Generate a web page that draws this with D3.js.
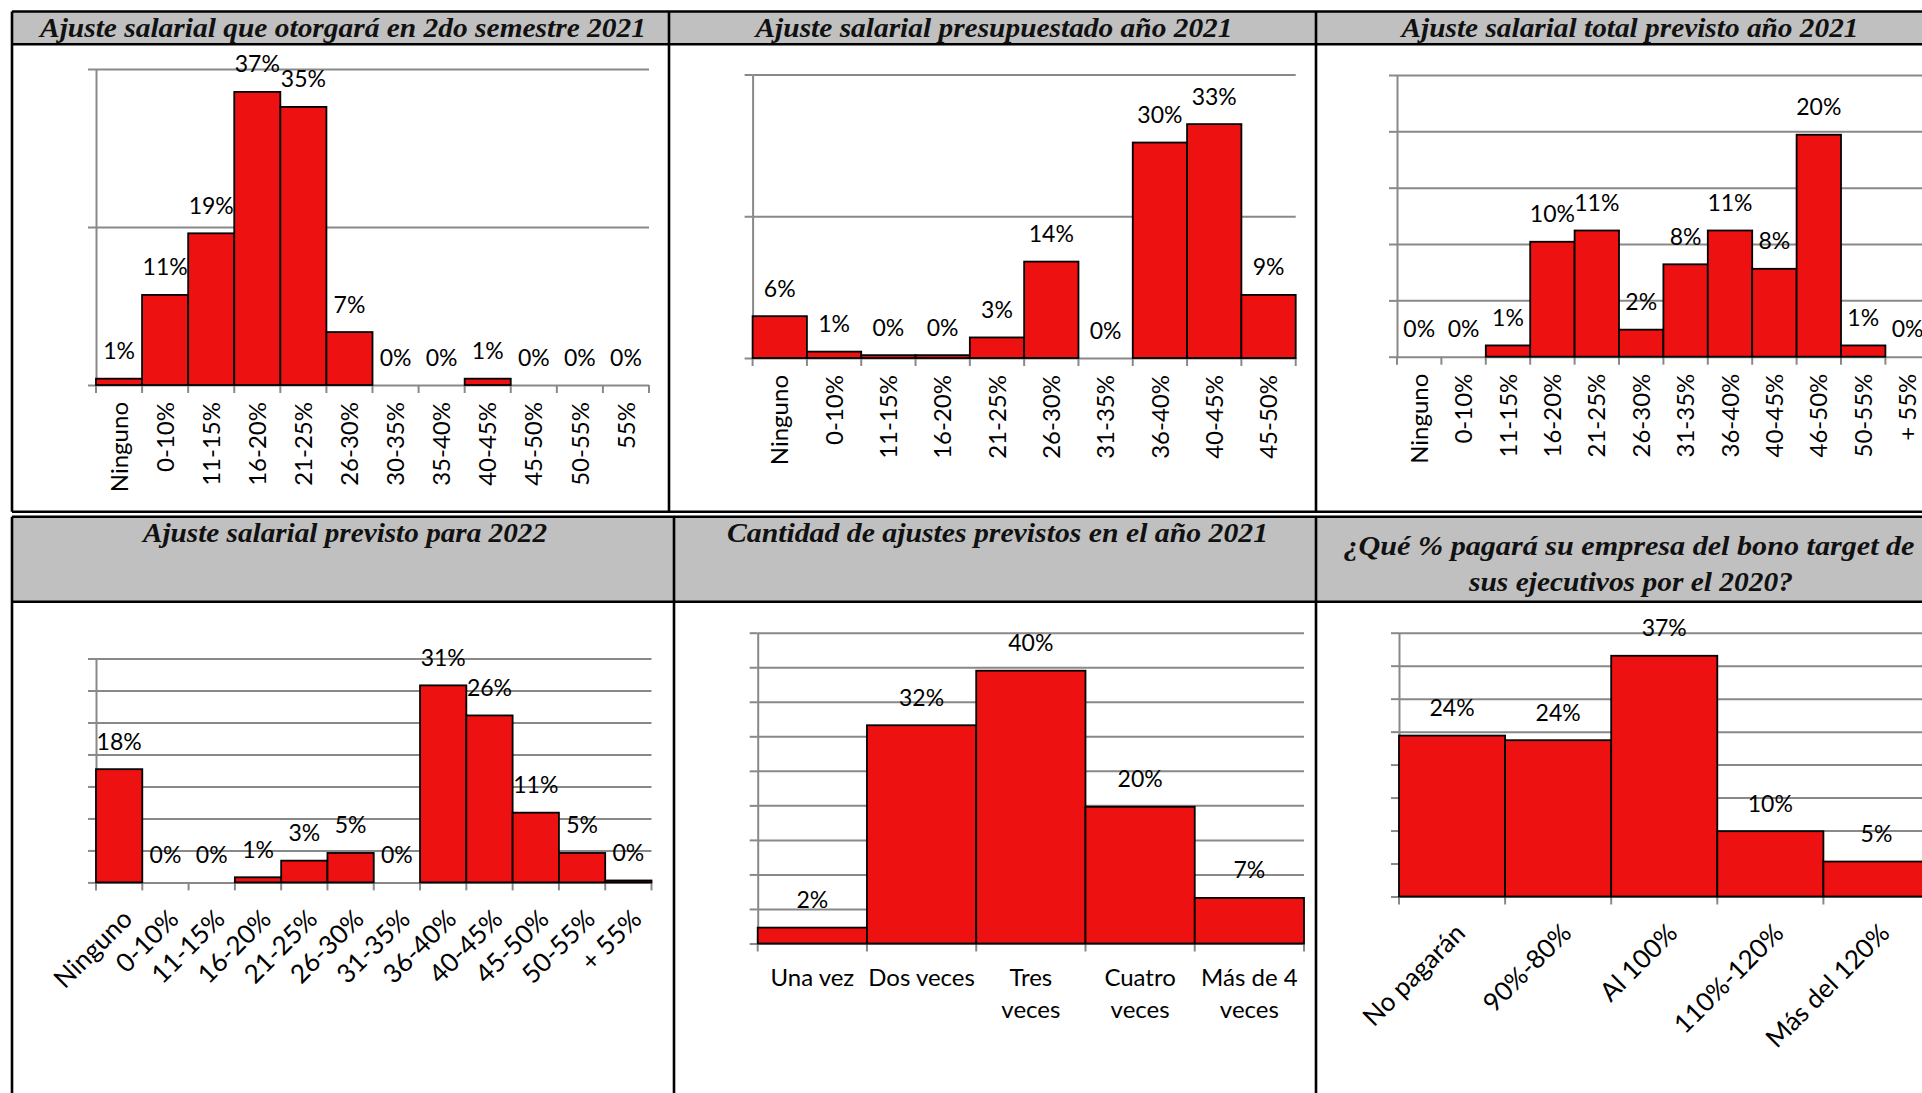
<!DOCTYPE html>
<html>
<head>
<meta charset="utf-8">
<script src="https://cdn.jsdelivr.net/npm/d3@7"></script>
<style>
  html, body { margin: 0; padding: 0; background: #fff; overflow: hidden; }
  svg { display: block; }
</style>
</head>
<body>
<svg id="board" width="1922" height="1093"></svg>
<script>
// ---- Survey results (percent of companies) ----
const cats1 = ["Ninguno", "0-10%", "11-15%", "16-20%", "21-25%", "26-30%", "30-35%", "35-40%", "40-45%", "45-50%", "50-55%", "55%"];
const vals1 = [0.8, 11.4, 19.2, 37.1, 35.2, 6.7, 0, 0, 0.8, 0, 0, 0];

const cats2 = ["Ninguno", "0-10%", "11-15%", "16-20%", "21-25%", "26-30%", "31-35%", "36-40%", "40-45%", "45-50%"];
const vals2 = [5.9, 0.9, 0.4, 0.4, 2.9, 13.6, 0, 30.4, 33.0, 8.9];

const cats3 = ["Ninguno", "0-10%", "11-15%", "16-20%", "21-25%", "26-30%", "31-35%", "36-40%", "40-45%", "46-50%", "50-55%", "+ 55%"];
const vals3 = [0, 0, 1.0, 10.2, 11.2, 2.4, 8.2, 11.2, 7.8, 19.7, 1.0, 0];

const cats4 = ["Ninguno", "0-10%", "11-15%", "16-20%", "21-25%", "26-30%", "31-35%", "36-40%", "40-45%", "45-50%", "50-55%", "+ 55%"];
const vals4 = [17.7, 0, 0, 0.8, 3.4, 4.6, 0, 30.8, 26.1, 10.9, 4.6, 0.3];

const cats5 = ["Una vez", "Dos veces", "Tres\nveces", "Cuatro\nveces", "Más de 4\nveces"];
const vals5 = [2.3, 31.6, 39.5, 19.8, 6.6];

const cats6 = ["No pagarán", "90%-80%", "Al 100%", "110%-120%", "Más del 120%"];
const vals6 = [24.4, 23.7, 36.5, 9.9, 5.3];

const titles = [
  "Ajuste salarial que otorgará en 2do semestre 2021",
  "Ajuste salarial presupuestado año 2021",
  "Ajuste salarial total previsto año 2021",
  "Ajuste salarial previsto para 2022",
  "Cantidad de ajustes previstos en el año 2021",
  "¿Qué % pagará su empresa del bono target de",
  "sus ejecutivos por el 2020?"
];

// ---- Page geometry ----
const svg = d3.select("#board");
const SANS = "Lato, 'Open Sans', sans-serif";
const SERIF = "'Liberation Serif', 'DejaVu Serif', serif";
const RED = "#ee1111";
const GRID = "#898989";
const labelFmt = v => Math.round(v) + "%";

// Table frames and grey title bands
const frame = svg.append("g");
frame.append("rect").attr("x", 12).attr("y", 11.5).attr("width", 1950).attr("height", 33).attr("fill", "#c0c0c0");
frame.append("rect").attr("x", 12).attr("y", 516.7).attr("width", 1950).attr("height", 85).attr("fill", "#c0c0c0");

const borderLines = [
  // upper table
  [12, 11.5, 1960, 11.5], [12, 44.3, 1960, 44.3], [12, 511.7, 1960, 511.7],
  [12, 11.5, 12, 511.7], [669, 11.5, 669, 511.7], [1316, 11.5, 1316, 511.7],
  // lower table
  [12, 516.7, 1960, 516.7], [12, 601.8, 1960, 601.8],
  [12, 516.7, 12, 1100], [674, 516.7, 674, 1100], [1316, 516.7, 1316, 1100]
];
frame.selectAll("line").data(borderLines).join("line")
  .attr("x1", d => d[0]).attr("y1", d => d[1]).attr("x2", d => d[2]).attr("y2", d => d[3])
  .attr("stroke", "#000").attr("stroke-width", 2.6);

// Titles
const titleSpecs = [
  { text: titles[0], cx: 343, y: 36.5, w: 606 },
  { text: titles[1], cx: 994, y: 36.5, w: 477 },
  { text: titles[2], cx: 1630, y: 36.5, w: 457 },
  { text: titles[3], cx: 345, y: 541.5, w: 404 },
  { text: titles[4], cx: 997.5, y: 541.5, w: 541 },
  { text: titles[5], cx: 1629, y: 555, w: 571 },
  { text: titles[6], cx: 1631, y: 591, w: 324 }
];
svg.append("g").selectAll("text").data(titleSpecs).join("text")
  .attr("x", d => d.cx).attr("y", d => d.y)
  .attr("text-anchor", "middle")
  .attr("font-family", SERIF).attr("font-weight", "bold").attr("font-style", "italic")
  .attr("font-size", 27).attr("fill", "#111")
  .attr("textLength", d => d.w).attr("lengthAdjust", "spacingAndGlyphs")
  .text(d => d.text);

// ---- Chart panels ----
const panels = [
  { cats: cats1, vals: vals1, left: 96, right: 649, base: 385, top: 69, max: 40, step: 20, mode: "v" },
  { cats: cats2, vals: vals2, left: 752.6, right: 1295.7, base: 358, top: 74.5, max: 40, step: 20, mode: "v" },
  { cats: cats3, vals: vals3, left: 1397, right: 1929.8, base: 356.7, top: 75, max: 25, step: 5, mode: "v" },
  { cats: cats4, vals: vals4, left: 96, right: 651.5, base: 882.4, top: 658.5, max: 35, step: 5, mode: "d" },
  { cats: cats5, vals: vals5, left: 757.7, right: 1304, base: 943.5, top: 632.7, max: 45, step: 5, mode: "h" },
  { cats: cats6, vals: vals6, left: 1399, right: 1929.5, base: 896.5, top: 632.7, max: 40, step: 5, mode: "d" }
];

function drawPanel(p) {
  const g = svg.append("g");
  const x = d3.scaleBand().domain(p.cats).range([p.left, p.right]).padding(0);
  const y = d3.scaleLinear().domain([0, p.max]).range([p.base, p.top]);
  const ticks = d3.range(0, p.max + p.step / 2, p.step);
  const width = p.right - p.left;

  // horizontal gridlines
  const grid = g.append("g").attr("transform", `translate(${p.left},0)`)
    .call(d3.axisLeft(y).tickValues(ticks).tickSize(-width).tickSizeOuter(0).tickFormat(""));
  grid.select(".domain").remove();
  grid.selectAll(".tick line").attr("stroke", GRID).attr("stroke-width", 2);

  // value axis with short outside tick marks
  const yAx = g.append("g").attr("transform", `translate(${p.left},0)`)
    .call(d3.axisLeft(y).tickValues(ticks).tickSize(8).tickSizeOuter(0).tickFormat(""));
  yAx.select(".domain").attr("stroke", GRID).attr("stroke-width", 2);
  yAx.selectAll(".tick line").attr("stroke", GRID).attr("stroke-width", 2);

  // category ticks sit on the band boundaries
  const edges = p.cats.map(c => x(c)).concat([p.right]);
  g.selectAll("line.xt").data(edges).join("line").attr("class", "xt")
    .attr("x1", d => d).attr("x2", d => d)
    .attr("y1", p.base).attr("y2", p.base + 8)
    .attr("stroke", GRID).attr("stroke-width", 2);

  // bars
  const rows = p.cats.map((c, i) => ({ c, v: p.vals[i] }));
  g.selectAll("rect.bar").data(rows.filter(d => d.v > 0)).join("rect").attr("class", "bar")
    .attr("x", d => x(d.c)).attr("width", x.bandwidth())
    .attr("y", d => y(d.v)).attr("height", d => y(0) - y(d.v))
    .attr("fill", RED).attr("stroke", "#000").attr("stroke-width", 1.8);

  // value labels
  g.selectAll("text.val").data(rows).join("text").attr("class", "val")
    .attr("x", d => x(d.c) + x.bandwidth() / 2)
    .attr("y", d => y(d.v) - 19.5)
    .attr("text-anchor", "middle")
    .attr("font-family", SANS).attr("font-size", 23).attr("fill", "#000")
    .text(d => labelFmt(d.v));

  // category labels
  const lab = g.selectAll("text.cat").data(p.cats).join("text").attr("class", "cat")
    .attr("font-family", SANS).attr("fill", "#000");
  const cx = c => x(c) + x.bandwidth() / 2;
  if (p.mode === "v") {
    lab.attr("font-size", 24)
      .attr("transform", c => `translate(${cx(c)},${p.base + 17}) rotate(-90)`)
      .attr("text-anchor", "end").attr("dy", "0.36em").text(c => c);
  } else if (p.mode === "d") {
    lab.attr("font-size", 26)
      .attr("transform", c => `translate(${cx(c) + 1},${p.base + 24.5}) rotate(-45)`)
      .attr("text-anchor", "end").attr("dy", "0.75em").text(c => c);
  } else {
    lab.attr("font-size", 24).attr("text-anchor", "middle").each(function (c) {
      const t = d3.select(this);
      c.split("\n").forEach((line, k) => {
        t.append("tspan").attr("x", cx(c)).attr("y", p.base + 42.5 + k * 31.6).text(line);
      });
    });
  }
}

panels.forEach(drawPanel);
</script>
</body>
</html>
